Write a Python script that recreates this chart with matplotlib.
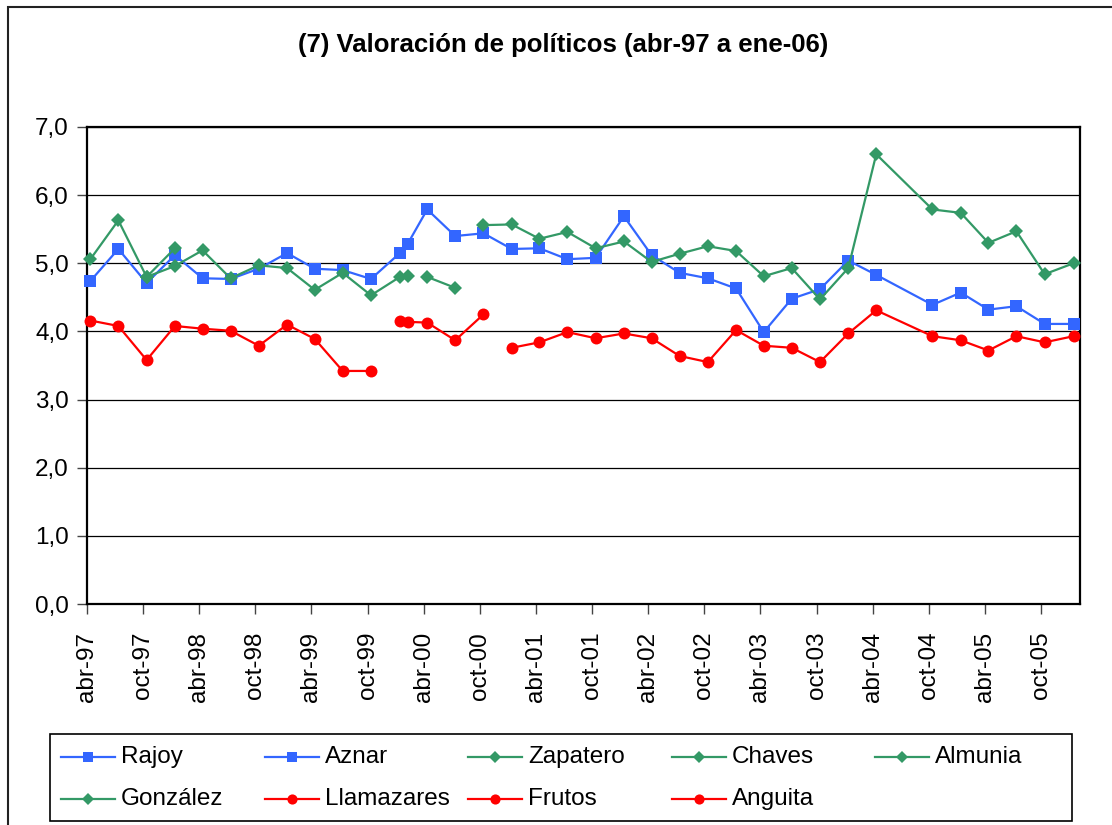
import matplotlib
matplotlib.use("Agg")
import matplotlib.pyplot as plt
import matplotlib.dates as mdates
from matplotlib.lines import Line2D
from matplotlib.patches import Rectangle
from matplotlib.ticker import FuncFormatter, MultipleLocator
import pandas as pd

plt.rcParams['font.family'] = ['Liberation Sans', 'DejaVu Sans']

# ---------------- data ----------------
title = "(7) Valoración de políticos (abr-97 a ene-06)"

aznar_dates = ["1997-04-12", "1997-07-12", "1997-10-12", "1998-01-12", "1998-04-12", "1998-07-12",
               "1998-10-12", "1999-01-12", "1999-04-12", "1999-07-12", "1999-10-12", "2000-01-14",
               "2000-02-09", "2000-04-12", "2000-07-12", "2000-10-12", "2001-01-12", "2001-04-12",
               "2001-07-12", "2001-10-12", "2002-01-12", "2002-04-12", "2002-07-12", "2002-10-12",
               "2003-01-12", "2003-04-12", "2003-07-12", "2003-10-12"]
aznar_vals = [4.74, 5.21, 4.71, 5.12, 4.78, 4.77, 4.92, 5.15, 4.92, 4.90, 4.77, 5.15,
              5.29, 5.79, 5.40, 5.44, 5.21, 5.22, 5.06, 5.08, 5.69, 5.12, 4.86, 4.78,
              4.63, 3.99, 4.48, 4.62]

rajoy_dates = ["2003-10-12", "2004-01-12", "2004-04-12", "2004-10-12", "2005-01-12",
               "2005-04-12", "2005-07-12", "2005-10-12", "2006-01-14"]
rajoy_vals = [4.62, 5.04, 4.83, 4.39, 4.57, 4.32, 4.37, 4.11, 4.11]

zapatero_dates = ["2000-10-12", "2001-01-12", "2001-04-12", "2001-07-12", "2001-10-12",
                  "2002-01-12", "2002-04-12", "2002-07-12", "2002-10-12", "2003-01-12",
                  "2003-04-12", "2003-07-12", "2003-10-12", "2004-01-12", "2004-04-12",
                  "2004-10-12", "2005-01-12", "2005-04-12", "2005-07-12", "2005-10-12",
                  "2006-01-14"]
zapatero_vals = [5.56, 5.57, 5.36, 5.46, 5.22, 5.32, 5.02, 5.14, 5.25, 5.18,
                 4.81, 4.93, 4.47, 4.93, 6.60, 5.79, 5.74, 5.30, 5.47, 4.84, 5.00]

chaves_dates = ["2000-04-12", "2000-07-12"]
chaves_vals = [4.80, 4.64]

almunia_dates = ["1997-10-12", "1998-01-12", "1998-04-12", "1998-07-12", "1998-10-12",
                 "1999-01-12", "1999-04-12", "1999-07-12", "1999-10-12", "2000-01-14",
                 "2000-02-09"]
almunia_vals = [4.80, 4.96, 5.19, 4.78, 4.97, 4.93, 4.61, 4.86, 4.53, 4.80, 4.82]

gonzalez_dates = ["1997-04-12", "1997-07-12", "1997-10-12", "1998-01-12"]
gonzalez_vals = [5.06, 5.63, 4.80, 5.22]

llamazares_dates = ["2001-01-12", "2001-04-12", "2001-07-12", "2001-10-12", "2002-01-12",
                    "2002-04-12", "2002-07-12", "2002-10-12", "2003-01-12", "2003-04-12",
                    "2003-07-12", "2003-10-12", "2004-01-12", "2004-04-12", "2004-10-12",
                    "2005-01-12", "2005-04-12", "2005-07-12", "2005-10-12", "2006-01-14"]
llamazares_vals = [3.76, 3.84, 3.99, 3.90, 3.97, 3.90, 3.64, 3.55, 4.02, 3.79,
                   3.76, 3.55, 3.97, 4.31, 3.93, 3.87, 3.72, 3.93, 3.84, 3.93]

frutos_dates = ["2000-01-14", "2000-02-09", "2000-04-12", "2000-07-12", "2000-10-12"]
frutos_vals = [4.16, 4.14, 4.13, 3.87, 4.25]

anguita_dates = ["1997-04-12", "1997-07-12", "1997-10-12", "1998-01-12", "1998-04-12",
                 "1998-07-12", "1998-10-12", "1999-01-12", "1999-04-12", "1999-07-12",
                 "1999-10-12"]
anguita_vals = [4.16, 4.08, 3.58, 4.08, 4.04, 4.01, 3.79, 4.10, 3.89, 3.42, 3.42]

# ---------------- styles ----------------
BLUE = "#3366FF"
GREEN = "#339966"
RED = "#FF0000"
sq = dict(color=BLUE, marker="s", markersize=8.0)
di = dict(color=GREEN, marker="D", markersize=7.0)
ci = dict(color=RED, marker="o", markersize=8.6)

series = [
    ("Rajoy", rajoy_dates, rajoy_vals, sq),
    ("Aznar", aznar_dates, aznar_vals, sq),
    ("Zapatero", zapatero_dates, zapatero_vals, di),
    ("Chaves", chaves_dates, chaves_vals, di),
    ("Almunia", almunia_dates, almunia_vals, di),
    ("González", gonzalez_dates, gonzalez_vals, di),
    ("Llamazares", llamazares_dates, llamazares_vals, ci),
    ("Frutos", frutos_dates, frutos_vals, ci),
    ("Anguita", anguita_dates, anguita_vals, ci),
]

W, H = 1112, 825
fig = plt.figure(figsize=(W / 100, H / 100), dpi=100)

def fx(px):
    return px / W

def fy(py):
    return 1 - py / H

# plot area in pixels
L, R, T, B = 87, 1080, 127, 604
ax = fig.add_axes([fx(L), fy(B), fx(R) - fx(L), fy(T) - fy(B)])

for name, d, v, st in series:
    ax.plot(pd.to_datetime(d), v, lw=1.6, markeredgewidth=0, label=name,
            zorder=3, clip_on=False, **st)

ax.set_ylim(0, 7)
ax.yaxis.set_major_locator(MultipleLocator(1))
ax.yaxis.set_major_formatter(FuncFormatter(lambda v, p: f"{v:.1f}".replace(".", ",")))
ax.set_xlim(pd.Timestamp("1997-04-01"), pd.Timestamp("2006-02-04"))

meses = {1: "ene", 2: "feb", 3: "mar", 4: "abr", 5: "may", 6: "jun",
         7: "jul", 8: "ago", 9: "sep", 10: "oct", 11: "nov", 12: "dic"}
ax.xaxis.set_major_locator(mdates.MonthLocator(bymonth=[4, 10], bymonthday=1))
ax.xaxis.set_major_formatter(FuncFormatter(
    lambda x, p: f"{meses[mdates.num2date(x).month]}-{mdates.num2date(x).year % 100:02d}"))

ax.grid(axis="y", color="black", lw=0.9, zorder=1)
ax.set_axisbelow(True)
for s in ax.spines.values():
    s.set_color("black")
    s.set_linewidth(1.6)

ax.tick_params(axis="both", direction="out", length=7, width=1.0, color="#444444",
               labelsize=17.5)
ax.tick_params(axis="y", pad=6)
ax.tick_params(axis="x", pad=13)
for lab in ax.get_xticklabels():
    lab.set_rotation(90)

fig.text(fx(563), fy(45), title, ha="center", va="center", fontsize=18.5,
         fontweight="bold")

# chart-area border (extends beyond the canvas on right and bottom)
fig.add_artist(Rectangle((fx(8), -0.2), 1.5, fy(7) + 0.2, transform=fig.transFigure,
                         fill=False, ec="#222222", lw=1.5))

# ---------------- legend (Excel-like fixed columns) ----------------
leg_l, leg_t, leg_r, leg_b = 50, 734, 1072, 821
fig.add_artist(Rectangle((fx(leg_l), fy(leg_b)), fx(leg_r) - fx(leg_l), fy(leg_t) - fy(leg_b),
                         transform=fig.transFigure, fill=False, ec="black", lw=1.2))
col_x0 = 61
col_w = 203.6
row_y = [757, 799]
for i, (name, d, v, st) in enumerate(series):
    r, c = divmod(i, 5)
    x0 = col_x0 + c * col_w
    y = row_y[r]
    ln = Line2D([fx(x0), fx(x0 + 27), fx(x0 + 54)], [fy(y)] * 3, transform=fig.transFigure,
                lw=1.6, markevery=[1], markeredgewidth=0,
                color=st["color"], marker=st["marker"], markersize=st["markersize"] * 0.85)
    fig.add_artist(ln)
    fig.text(fx(x0 + 60), fy(y), name, ha="left", va="center", fontsize=17.5)

fig.savefig("out.png", dpi=100)
